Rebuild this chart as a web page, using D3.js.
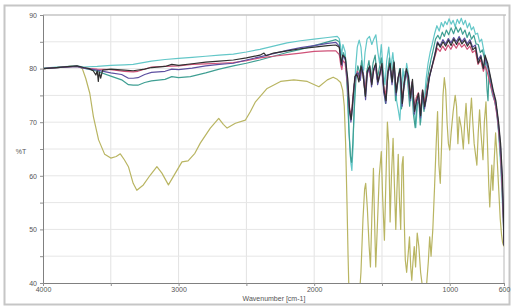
<!DOCTYPE html>
<html lang="en">
<head>
<meta charset="UTF-8" />
<title>IR spectra</title>
<script src="https://d3js.org/d3.v7.min.js"></script>
<style>
  html, body { margin: 0; padding: 0; background: #fff; }
  svg { display: block; font-family: "Liberation Sans", Arial, sans-serif; }
</style>
</head>
<body>
<svg id="chart" width="514" height="307"></svg>
<script>
// x tick labels and y tick labels
const xTickLabels = [4000, 3000, 2000, 1000, 600];
const xMinorTicks = [3500, 2500, 1500];
const yTickLabels = [40, 50, 60, 70, 80, 90];

// spectra, [wavenumber, %T]
const olive = [[4000,80.0],[3900,80.2],[3800,80.4],[3740,80.4],[3710,80.0],[3685,78.2],[3655,75.4],[3628,71.0],[3590,66.7],[3545,64.0],[3500,63.3],[3460,63.6],[3430,64.1],[3400,63.0],[3370,61.7],[3335,58.6],[3308,57.3],[3260,58.3],[3210,60.1],[3160,61.7],[3123,60.5],[3075,58.3],[3024,60.5],[2975,62.6],[2930,62.8],[2880,64.2],[2840,66.1],[2766,68.9],[2704,70.7],[2670,69.6],[2642,68.9],[2581,69.8],[2507,70.4],[2470,72.0],[2433,73.8],[2347,76.3],[2248,77.6],[2150,77.9],[2051,77.6],[1990,76.9],[1965,76.6],[1903,77.9],[1860,78.4],[1830,78.0],[1805,77.4],[1790,76.0],[1778,73],[1768,66],[1758,55],[1750,45],[1742,37],[1700,35],[1668,37],[1655,42],[1640,52],[1628,57.5],[1620,58.6],[1608,54],[1595,47],[1585,43],[1575,52],[1563,61.4],[1555,52],[1546,43],[1535,50],[1520,60],[1505,64.5],[1495,56],[1482,48],[1472,58],[1460,70],[1450,66],[1440,51.4],[1430,60],[1418,67],[1408,58],[1398,50],[1390,57],[1380,64],[1372,56],[1362,50],[1352,62],[1344,63.6],[1336,52],[1328,44.3],[1318,42],[1305,46],[1297,48.6],[1288,43],[1280,40.5],[1272,43.7],[1262,46.8],[1252,43],[1240,49.3],[1228,46.8],[1215,42],[1200,39],[1185,38],[1170,40],[1158,44],[1148,48.6],[1138,45],[1125,50],[1112,58],[1100,66],[1090,72],[1080,62],[1070,58.6],[1060,66],[1050,75],[1040,78.3],[1030,76],[1020,70],[1010,66],[1000,64.8],[990,68],[975,72],[960,75],[950,73],[940,66],[930,71],[915,69],[900,65],[890,70],[880,73.5],[870,69],[860,66],[850,71],[840,74.5],[830,70],[820,66],[810,64],[800,62],[790,68],[780,72.3],[770,68],[755,63],[745,70],[733,73.8],[722,66],[712,58],[705,54.2],[698,58],[690,62],[682,57.3],[672,63],[662,68],[652,64],[640,58],[628,52],[618,49],[610,47.5],[600,46.8]];

const cyan = [[4000,80.1],[3900,80.3],[3750,80.5],[3700,80.3],[3600,80.4],[3500,80.6],[3400,80.7],[3335,80.8],[3200,81.4],[3100,81.7],[3000,81.9],[2900,82.1],[2800,82.3],[2700,82.5],[2596,82.7],[2500,83.1],[2400,83.6],[2300,84.2],[2200,84.8],[2100,85.2],[2000,85.5],[1900,85.8],[1830,86.0],[1815,85.6],[1805,84.2],[1797,82.5],[1788,84.5],[1772,83.2],[1755,77],[1742,68],[1730,62.5],[1722,61],[1714,65],[1705,73],[1695,80],[1682,84],[1668,85.3],[1655,84],[1642,80],[1635,79.7],[1625,83],[1610,85.5],[1592,86],[1575,84.5],[1560,85.5],[1545,86.3],[1530,83],[1518,81],[1505,84.5],[1492,80],[1478,77],[1465,81.5],[1450,84],[1435,80],[1420,83],[1405,79],[1392,74],[1378,72],[1368,70.4],[1358,75],[1345,80],[1332,77],[1318,81],[1302,78.5],[1288,74],[1275,77],[1262,72.5],[1250,69],[1238,73.5],[1225,74],[1214,70],[1200,76],[1188,74],[1175,78],[1160,81],[1145,83],[1130,84.5],[1112,86.5],[1095,88],[1078,87],[1062,88.6],[1048,87.8],[1035,88.8],[1020,88.2],[1005,89.3],[990,88.3],[975,89],[960,87.8],[945,89.2],[930,88.4],[915,89.4],[900,88.2],[885,89],[870,87.6],[855,88.5],[840,87.2],[825,87.8],[810,86.4],[795,86.6],[780,85],[765,85.5],[750,83.5],[738,82],[725,81],[712,79],[700,77],[685,75],[670,74],[655,72],[640,68],[625,62],[612,55],[603,50],[600,48]];

const teal = [[4000,80.0],[3900,80.2],[3750,80.4],[3700,80.1],[3600,79.5],[3500,78.6],[3420,77.9],[3370,77.0],[3335,76.9],[3300,76.9],[3250,77.4],[3200,77.7],[3100,78.0],[3050,78.5],[3000,78.3],[2913,78.5],[2800,79.2],[2700,79.9],[2596,80.5],[2500,81.0],[2400,81.6],[2300,82.3],[2200,83.0],[2100,83.6],[2000,84.3],[1900,85.0],[1840,85.4],[1815,85.0],[1803,82],[1795,80.5],[1786,83],[1770,82],[1756,76],[1743,68],[1732,63.5],[1724,62.5],[1715,66],[1705,72],[1692,78],[1678,80.5],[1662,79],[1650,81.5],[1636,78],[1624,75],[1612,79.5],[1596,81.5],[1580,78],[1566,81],[1550,82.5],[1535,78],[1520,80],[1505,82],[1490,77],[1474,73.5],[1460,79],[1445,82],[1430,78],[1415,81.5],[1400,74],[1385,77],[1370,80],[1356,72.5],[1342,76],[1328,79.5],[1312,78],[1296,73],[1282,77],[1268,71.5],[1255,69],[1242,73],[1228,74.5],[1218,69.5],[1205,75],[1190,72],[1175,76],[1158,79],[1140,81.5],[1122,83.5],[1105,85.5],[1088,86.2],[1072,85.5],[1055,86.8],[1040,86],[1025,87.2],[1008,86.3],[990,87.6],[972,86.5],[955,87.8],[938,86.8],[920,87.6],[905,86.4],[888,87.2],[872,85.8],[856,86.8],[840,85.5],[822,86.2],[806,84.6],[790,84.5],[775,83],[760,83.5],[745,82],[733,80.5],[725,76],[718,74],[711,79],[700,77.5],[685,75.5],[668,74],[652,72],[638,68],[624,63],[612,57],[603,51],[600,49]];

const pink = [[4000,80.0],[3900,80.2],[3750,80.4],[3700,80.1],[3600,79.9],[3500,79.8],[3400,79.5],[3335,79.4],[3300,79.5],[3200,80.3],[3100,80.4],[3000,80.5],[2900,80.8],[2800,80.9],[2700,81.0],[2596,81.1],[2500,81.5],[2400,82.0],[2300,82.3],[2200,82.6],[2100,82.9],[2000,83.2],[1900,83.3],[1840,83.3],[1815,82.6],[1803,80.5],[1796,79.8],[1788,81.5],[1772,81],[1756,77.5],[1742,73],[1732,71.5],[1722,72.5],[1710,76],[1695,78.5],[1680,79.5],[1665,78],[1652,80],[1638,78.5],[1625,75.5],[1612,79],[1596,80],[1580,77.5],[1565,79.5],[1550,80.5],[1535,78],[1520,78.5],[1505,80.5],[1490,77],[1473,75],[1458,79],[1443,80.5],[1428,78],[1412,80.5],[1397,76],[1382,78],[1367,79.5],[1352,74.5],[1338,77],[1322,79.5],[1307,78],[1292,75],[1278,77.5],[1263,73],[1248,74.5],[1232,75.5],[1217,72],[1202,76],[1187,73.5],[1172,75.5],[1152,78.5],[1132,80.2],[1112,82],[1092,83.8],[1072,83.2],[1052,84.2],[1032,83.4],[1012,84.4],[992,83.6],[972,84.6],[952,83.8],[932,84.8],[912,84],[892,84.5],[872,83.6],[852,84.2],[832,83],[812,83.4],[792,80.8],[772,81.6],[752,79.5],[740,80.5],[725,79.5],[705,77.5],[685,75.5],[665,73.5],[645,70],[628,65],[614,58],[604,51],[600,47.5]];

const purple = [[4000,80.0],[3900,80.2],[3750,80.4],[3700,80.1],[3600,79.7],[3500,79.2],[3420,78.9],[3370,78.2],[3335,78.2],[3300,78.3],[3250,78.9],[3200,79.3],[3100,79.5],[3050,79.9],[3000,79.8],[2900,80.1],[2800,80.5],[2700,80.8],[2596,81.0],[2500,81.6],[2400,82.2],[2300,82.8],[2200,83.4],[2100,83.9],[2000,84.3],[1900,84.7],[1840,84.9],[1815,84.2],[1803,81.5],[1795,80.6],[1787,82.5],[1770,81.6],[1754,77.5],[1740,72],[1729,70],[1718,72.5],[1705,77],[1690,79],[1675,79.2],[1660,77.8],[1648,80.3],[1634,78.6],[1621,74.2],[1608,79],[1592,80.3],[1577,76.6],[1562,79.6],[1547,80.7],[1532,77],[1517,78.6],[1502,80.7],[1487,75.5],[1471,73.5],[1456,79],[1441,80.7],[1426,77],[1410,81],[1396,75],[1381,78.2],[1366,79.6],[1351,73],[1336,77],[1321,79.6],[1306,78.2],[1291,74],[1276,77.6],[1261,71.5],[1246,73.6],[1231,75],[1216,70.8],[1201,75.6],[1186,72.5],[1171,74.6],[1151,78.2],[1131,80.4],[1111,82.6],[1091,85],[1071,84.3],[1051,85.4],[1031,84.6],[1011,85.6],[991,84.8],[971,85.8],[951,85],[931,86],[911,85],[891,85.7],[871,84.6],[851,85.4],[831,84],[811,84.4],[791,81.6],[771,82.5],[751,80],[738,82],[722,80.5],[702,78.5],[682,75.8],[662,73.8],[642,70],[626,65.5],[613,59],[604,52],[600,47]];

const black = [[4000,80.0],[3900,80.2],[3800,80.4],[3750,80.5],[3700,80.2],[3660,80.0],[3630,79.6],[3610,78.8],[3600,79.6],[3592,77.6],[3585,79.4],[3575,78.2],[3560,79.7],[3500,79.9],[3400,79.7],[3335,79.6],[3250,79.9],[3200,80.2],[3100,80.4],[3050,80.8],[3000,80.6],[2900,80.9],[2800,81.2],[2700,81.4],[2596,81.6],[2500,82.0],[2400,82.5],[2370,82.9],[2355,82.4],[2300,82.9],[2200,83.3],[2100,83.7],[2000,84.0],[1900,84.3],[1840,84.4],[1815,84.0],[1800,80.8],[1790,82.5],[1770,82],[1752,78],[1738,72],[1727,70.5],[1715,74],[1700,78.5],[1685,79],[1670,77.5],[1655,80.5],[1640,79],[1622,74.8],[1608,79.5],[1590,80.5],[1575,77],[1560,80],[1545,81],[1530,77.5],[1515,79],[1500,81],[1485,76],[1470,74],[1455,79.5],[1440,81],[1425,77.5],[1410,81.2],[1395,75.5],[1380,78.5],[1365,80],[1350,73.5],[1335,77.5],[1320,80],[1305,78.6],[1290,74.5],[1275,78],[1260,72],[1245,74],[1230,75.4],[1215,71.2],[1200,76],[1185,72.9],[1170,75],[1150,78.5],[1130,80.5],[1110,82.5],[1090,84.8],[1070,84],[1050,85],[1030,84.2],[1010,85.3],[990,84.3],[970,85.5],[950,84.5],[930,85.6],[910,84.6],[890,85.3],[870,84.2],[850,85],[830,83.5],[810,84],[790,81],[770,82.2],[752,80],[740,82.5],[720,81],[700,78.5],[680,76],[660,74],[640,70],[625,66],[612,60],[603,52],[600,47]];

const series = [
    { data: olive, color: "#b9b562" },
    { data: cyan, color: "#63c7c8" },
    { data: teal, color: "#3f9f93" },
    { data: pink, color: "#cf5278" },
    { data: purple, color: "#5d50a0" },
    { data: black, color: "#303030" }
];

const svg = d3.select("#chart");
const m = { left: 43, right: 504, top: 15, bottom: 283 };

const x = d3.scaleLinear().domain([4000, 600]).range([m.left, m.right]);
const y = d3.scaleLinear().domain([40, 90]).range([m.bottom, m.top]);

// outer frame
svg.append("rect")
    .attr("x", 4.5).attr("y", 5.5)
    .attr("width", 505).attr("height", 299)
    .attr("fill", "#fff")
    .attr("stroke", "#c6c6c6")
    .attr("stroke-width", 2);

// grid
const grid = svg.append("g");
grid.selectAll("line.v")
    .data([3500, 3000, 2500, 2000, 1500, 1000])
    .join("line")
    .attr("class", "v")
    .attr("x1", d => x(d)).attr("x2", d => x(d))
    .attr("y1", m.top).attr("y2", m.bottom)
    .attr("stroke", "#e2e2e2");
grid.selectAll("line.h")
    .data(d3.range(45, 90, 5))
    .join("line")
    .attr("class", "h")
    .attr("x1", m.left).attr("x2", m.right)
    .attr("y1", d => y(d)).attr("y2", d => y(d))
    .attr("stroke", "#e6e6e6");

// frame top / right
svg.append("line").attr("x1", m.left).attr("x2", m.right + 2).attr("y1", m.top).attr("y2", m.top)
    .attr("stroke", "#c4c4c4").attr("stroke-width", 1.5);
svg.append("line").attr("x1", m.right).attr("x2", m.right).attr("y1", m.top).attr("y2", m.bottom)
    .attr("stroke", "#b8b8b8");

// spectra
svg.append("clipPath").attr("id", "clip")
    .append("rect").attr("x", m.left).attr("y", m.top)
    .attr("width", m.right - m.left).attr("height", m.bottom - m.top);

const line = d3.line().x(d => x(d[0])).y(d => y(d[1]));

svg.append("g").attr("clip-path", "url(#clip)")
    .selectAll("path")
    .data(series)
    .join("path")
    .attr("d", d => line(d.data))
    .attr("fill", "none")
    .attr("stroke", d => d.color)
    .attr("stroke-width", 1.2)
    .attr("stroke-linejoin", "round");

// axes
const yAxis = svg.append("g")
    .attr("transform", `translate(${m.left},0)`)
    .call(d3.axisLeft(y).tickValues(d3.range(40, 91, 5)).tickSize(3)
        .tickFormat(d => yTickLabels.includes(d) ? d : ""));
const xAxis = svg.append("g")
    .attr("transform", `translate(0,${m.bottom})`)
    .call(d3.axisBottom(x).tickValues(xTickLabels.concat(xMinorTicks)).tickSize(3)
        .tickFormat(d => xTickLabels.includes(d) ? d : ""));

[yAxis, xAxis].forEach(a => {
    a.select(".domain").attr("stroke", "#808080");
    a.selectAll(".tick line").attr("stroke", "#909090");
    a.selectAll(".tick text").attr("fill", "#555").style("font-size", "7px");
});
xAxis.selectAll(".tick text").attr("dy", "0.4em");

// axis titles
svg.append("text")
    .attr("x", 21).attr("y", 154)
    .attr("text-anchor", "middle")
    .attr("fill", "#555")
    .style("font-size", "7px")
    .text("%T");

svg.append("text")
    .attr("x", 274).attr("y", 301)
    .attr("text-anchor", "middle")
    .attr("fill", "#555")
    .style("font-size", "7px")
    .text("Wavenumber [cm-1]");
</script>
</body>
</html>
